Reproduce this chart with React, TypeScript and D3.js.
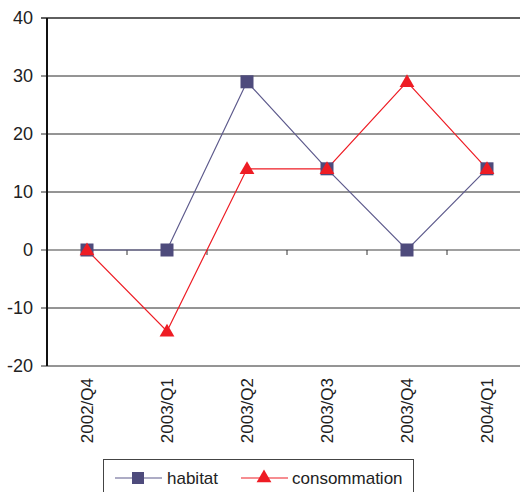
import React from "react";
import * as d3 from "d3";

const categories = ["2002/Q4", "2003/Q1", "2003/Q2", "2003/Q3", "2003/Q4", "2004/Q1"];
const habitat = [0, 0, 29, 14, 0, 14];
const consommation = [0, -14, 14, 14, 29, 14];
const yTicks = [-20, -10, 0, 10, 20, 30, 40];

const W = 520, H = 492;
const left = 47, right = 527, top = 18, bottom = 366;

export default function App() {
  const x = d3.scaleBand<string>().domain(categories).range([left, right]);
  const y = d3.scaleLinear().domain([-20, 40]).range([bottom, top]);
  const cx = (c: string) => (x(c) as number) + x.bandwidth() / 2;
  const line = d3.line<number>().x((_, i) => cx(categories[i])).y((d) => y(d));
  const habColor = "#4e4b7c";
  const consColor = "#ee1c24";
  const tri = d3.symbol().type(d3.symbolTriangle).size(95)();
  const font = "Arial, 'Liberation Sans', sans-serif";
  return (
    <svg width={W} height={H} style={{ position: "absolute", left: 0, top: 0 }} fontFamily={font}>
      <rect width={W} height={H} fill="#fff" />
      {yTicks.map((t) => (
        <g key={t}>
          <line x1={left - 6} x2={right} y1={y(t)} y2={y(t)} stroke={t === 0 ? "#808080" : "#2a2a2a"} strokeWidth={t === 40 ? 1.5 : t === 0 ? 1.6 : 1} />
          <text x={33} y={y(t)} dy="0.36em" textAnchor="end" fontSize={18} fill="#222">{t}</text>
        </g>
      ))}
      <line x1={left} x2={left} y1={top} y2={bottom} stroke="#111" strokeWidth={2} />
      {categories.map((c) => (
        <g key={c}>
          <line x1={(x(c) as number) + x.bandwidth()} x2={(x(c) as number) + x.bandwidth()} y1={y(0)} y2={y(0) + 5} stroke="#333" strokeWidth={1} />
          <text transform={`translate(${cx(c) + 6},${bottom + 12}) rotate(-90)`} textAnchor="end" fontSize={17} fill="#222">{c}</text>
        </g>
      ))}
      <path d={line(habitat) || ""} fill="none" stroke="#5d5a8c" strokeWidth={1.2} />
      <path d={line(consommation) || ""} fill="none" stroke={consColor} strokeWidth={1.2} />
      {habitat.map((v, i) => (
        <rect key={i} x={cx(categories[i]) - 6.5} y={y(v) - 6.5} width={13} height={13} fill={habColor} />
      ))}
      {consommation.map((v, i) => (
        <path key={i} d={tri || ""} transform={`translate(${cx(categories[i])},${y(v) + 1})`} fill={consColor} />
      ))}
      <rect x={103.5} y={459.5} width={310} height={40} fill="#fff" stroke="#444" strokeWidth={1} />
      <line x1={115} x2={162} y1={478} y2={478} stroke="#5d5a8c" strokeWidth={1.2} />
      <rect x={132} y={472} width={12} height={12} fill={habColor} />
      <text x={167} y={478} dy="0.36em" fontSize={17} fill="#222">habitat</text>
      <line x1={241} x2={288} y1={478} y2={478} stroke={consColor} strokeWidth={1.2} />
      <path d={tri || ""} transform={`translate(${264},${478})`} fill={consColor} />
      <text x={292} y={478} dy="0.36em" fontSize={17} fill="#222">consommation</text>
    </svg>
  );
}
